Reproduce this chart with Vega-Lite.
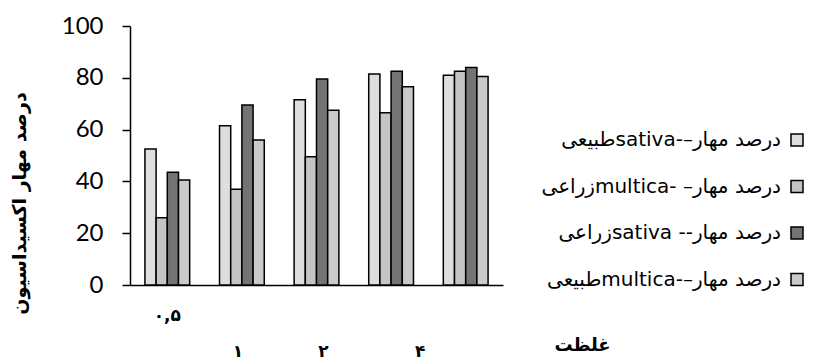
{
  "$schema": "https://vega.github.io/schema/vega-lite/v6.json",
  "width": 373,
  "height": 259,
  "autosize": {"type": "none"},
  "padding": {"left": 130, "top": 26, "right": 318, "bottom": 73},
  "background": "white",
  "config": {"view": {"stroke": null}},
  "data": {
    "values": [
      {"conc": "۰,۵", "series": "درصد مهار–-sativaطبیعی", "value": 52.5},
      {"conc": "۰,۵", "series": "درصد مهار– -multicaزراعی", "value": 26},
      {"conc": "۰,۵", "series": "درصد مهار-- sativaزراعی", "value": 43.5},
      {"conc": "۰,۵", "series": "درصد مهار–-multicaطبیعی", "value": 40.5},
      {"conc": "۱", "series": "درصد مهار–-sativaطبیعی", "value": 61.5},
      {"conc": "۱", "series": "درصد مهار– -multicaزراعی", "value": 37},
      {"conc": "۱", "series": "درصد مهار-- sativaزراعی", "value": 69.5},
      {"conc": "۱", "series": "درصد مهار–-multicaطبیعی", "value": 56},
      {"conc": "۲", "series": "درصد مهار–-sativaطبیعی", "value": 71.5},
      {"conc": "۲", "series": "درصد مهار– -multicaزراعی", "value": 49.5},
      {"conc": "۲", "series": "درصد مهار-- sativaزراعی", "value": 79.5},
      {"conc": "۲", "series": "درصد مهار–-multicaطبیعی", "value": 67.5},
      {"conc": "۴", "series": "درصد مهار–-sativaطبیعی", "value": 81.5},
      {"conc": "۴", "series": "درصد مهار– -multicaزراعی", "value": 66.5},
      {"conc": "۴", "series": "درصد مهار-- sativaزراعی", "value": 82.5},
      {"conc": "۴", "series": "درصد مهار–-multicaطبیعی", "value": 76.5},
      {"conc": "۸", "series": "درصد مهار–-sativaطبیعی", "value": 81},
      {"conc": "۸", "series": "درصد مهار– -multicaزراعی", "value": 82.5},
      {"conc": "۸", "series": "درصد مهار-- sativaزراعی", "value": 84},
      {"conc": "۸", "series": "درصد مهار–-multicaطبیعی", "value": 80.5}
    ]
  },
  "mark": {"type": "bar", "stroke": "#000000", "strokeWidth": 1.5},
  "encoding": {
    "x": {
      "field": "conc",
      "type": "nominal",
      "sort": null,
      "scale": {"paddingInner": 0.4, "paddingOuter": 0.2},
      "axis": {
        "title": "غلظت",
        "titleFont": "DejaVu Sans",
        "titleFontSize": 18,
        "titleFontWeight": "bold",
        "titleColor": "#000000",
        "titleX": 452,
        "titleY": 60,
        "titleAlign": "center",
        "titleBaseline": "middle",
        "labelAngle": 0,
        "labelFont": "DejaVu Sans",
        "labelFontSize": 17,
        "labelFontWeight": "bold",
        "labelColor": "#000000",
        "labelPadding": {
          "condition": [
            {"test": "datum.value === '۰,۵'", "value": 22},
            {"test": "datum.value === '۸'", "value": 90}
          ],
          "value": 58
        },
        "labelOffset": {
          "condition": [
            {"test": "datum.value === '۱'", "value": -4},
            {"test": "datum.value === '۲'", "value": 7},
            {"test": "datum.value === '۴'", "value": 29},
            {"test": "datum.value === '۸'", "value": 50}
          ],
          "value": 0
        },
        "ticks": false,
        "tickSize": 0,
        "domainColor": "#000000",
        "domainWidth": 1.5
      }
    },
    "xOffset": {"field": "series", "type": "nominal", "sort": null},
    "y": {
      "field": "value",
      "type": "quantitative",
      "scale": {"domain": [0, 100]},
      "axis": {
        "title": "درصد مهار اکسیداسیون",
        "titleFont": "DejaVu Sans",
        "titleFontSize": 19,
        "titleFontWeight": "bold",
        "titleColor": "#000000",
        "titleAngle": 270,
        "titleX": -111,
        "titleY": 177,
        "titleAlign": "center",
        "titleBaseline": "middle",
        "values": [0, 20, 40, 60, 80, 100],
        "grid": false,
        "labelFont": "Lato",
        "labelFontSize": 24,
        "labelColor": "#000000",
        "labelPadding": 19,
        "tickSize": 8,
        "tickColor": "#000000",
        "tickWidth": 1.5,
        "domainColor": "#000000",
        "domainWidth": 1.5
      }
    },
    "fill": {
      "field": "series",
      "type": "nominal",
      "sort": null,
      "scale": {
        "domain": ["درصد مهار–-sativaطبیعی", "درصد مهار– -multicaزراعی", "درصد مهار-- sativaزراعی", "درصد مهار–-multicaطبیعی"],
        "range": ["#dedede", "#c4c4c4", "#747474", "#cacaca"]
      },
      "legend": {
        "title": null,
        "orient": "none",
        "legendX": 409,
        "legendY": 104,
        "padding": 0,
        "symbolType": "square",
        "symbolSize": 144,
        "symbolStrokeColor": "#000000",
        "symbolStrokeWidth": 1.5,
        "symbolOffset": 248,
        "labelAlign": "right",
        "labelOffset": -26,
        "labelLimit": 400,
        "labelFont": "DejaVu Sans",
        "labelFontSize": 20,
        "labelColor": "#000000",
        "labelExpr": "'\u202b' + datum.label + '\u202c'",
        "rowPadding": 26.5
      }
    }
  }
}
